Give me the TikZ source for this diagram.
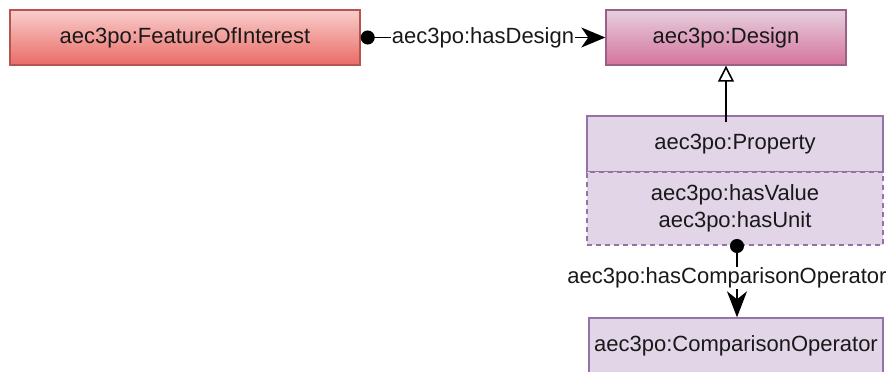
\documentclass[tikz,border=0pt]{standalone}
\usepackage{fontspec}
\setmainfont{Liberation Sans}
\usetikzlibrary{arrows.meta}

\tikzset{
  klasse/.style={draw, line width=1.4pt, inner sep=0pt, align=center,
    font=\fontsize{22}{27}\selectfont, text=black!90},
  verbindung/.style={line width=1.6pt},
  rolle/.style={fill=white, inner sep=2pt, font=\fontsize{22}{27}\selectfont, text=black!90}
}

\begin{document}
\begin{tikzpicture}[x=1pt, y=-1pt]

        % Farben wie in draw.io
        \definecolor{rotfill}{HTML}{F8CECC}
        \definecolor{rotverlauf}{HTML}{EA6B66}
        \definecolor{rotrand}{HTML}{B85450}
        \definecolor{rosafill}{HTML}{E6D0DE}
        \definecolor{rosaverlauf}{HTML}{D5739D}
        \definecolor{rosarand}{HTML}{996185}
        \definecolor{lilafill}{HTML}{E1D5E7}
        \definecolor{lilarand}{HTML}{9673A6}

        \useasboundingbox (0,0) rectangle (889,372);

        % Klassen oben
        \node[klasse, draw=rotrand, top color=rotfill, bottom color=rotverlauf,
              minimum width=350pt, minimum height=55pt] (foi) at (185,37.5) {aec3po:FeatureOfInterest};
        \node[klasse, draw=rosarand, top color=rosafill, bottom color=rosaverlauf,
              minimum width=240pt, minimum height=55pt] (design) at (726,37.5) {aec3po:Design};

        % Property mit Attributen
        \node[klasse, draw=lilarand, fill=lilafill,
              minimum width=296pt, minimum height=56pt] (prop) at (735,144) {aec3po:Property};
        \node[klasse, draw=lilarand, fill=lilafill, dashed, dash pattern=on 5pt off 4pt,
              minimum width=296pt, minimum height=73pt] (attr) at (735,208.5) {aec3po:hasValue\\aec3po:hasUnit};

        % Klasse unten
        \node[klasse, draw=lilarand, fill=lilafill,
              minimum width=294pt, minimum height=56pt] (compop) at (736,346) {aec3po:ComparisonOperator};

        % Kanten
        \draw[verbindung, {Circle[length=14pt]}-{Stealth[length=24pt, width=20pt, inset=7pt]}]
            (foi.east) -- node[rolle, inner sep=1pt] {aec3po:hasDesign} (design.west);

        \draw[verbindung, -{Triangle[open, length=16pt, width=16pt, fill=white]}]
            ([yshift=-7pt]design.south |- prop.north) -- (design.south);

        \coordinate (punkt) at (737,245);
        \draw[verbindung, {Circle[length=14pt]}-{Stealth[length=26pt, width=20pt, inset=8pt]}]
            ([yshift=6pt]punkt) -- node[rolle, xshift=-10pt, inner sep=1pt] {aec3po:hasComparisonOperator} (punkt |- compop.north);

    \end{tikzpicture}
\end{document}
